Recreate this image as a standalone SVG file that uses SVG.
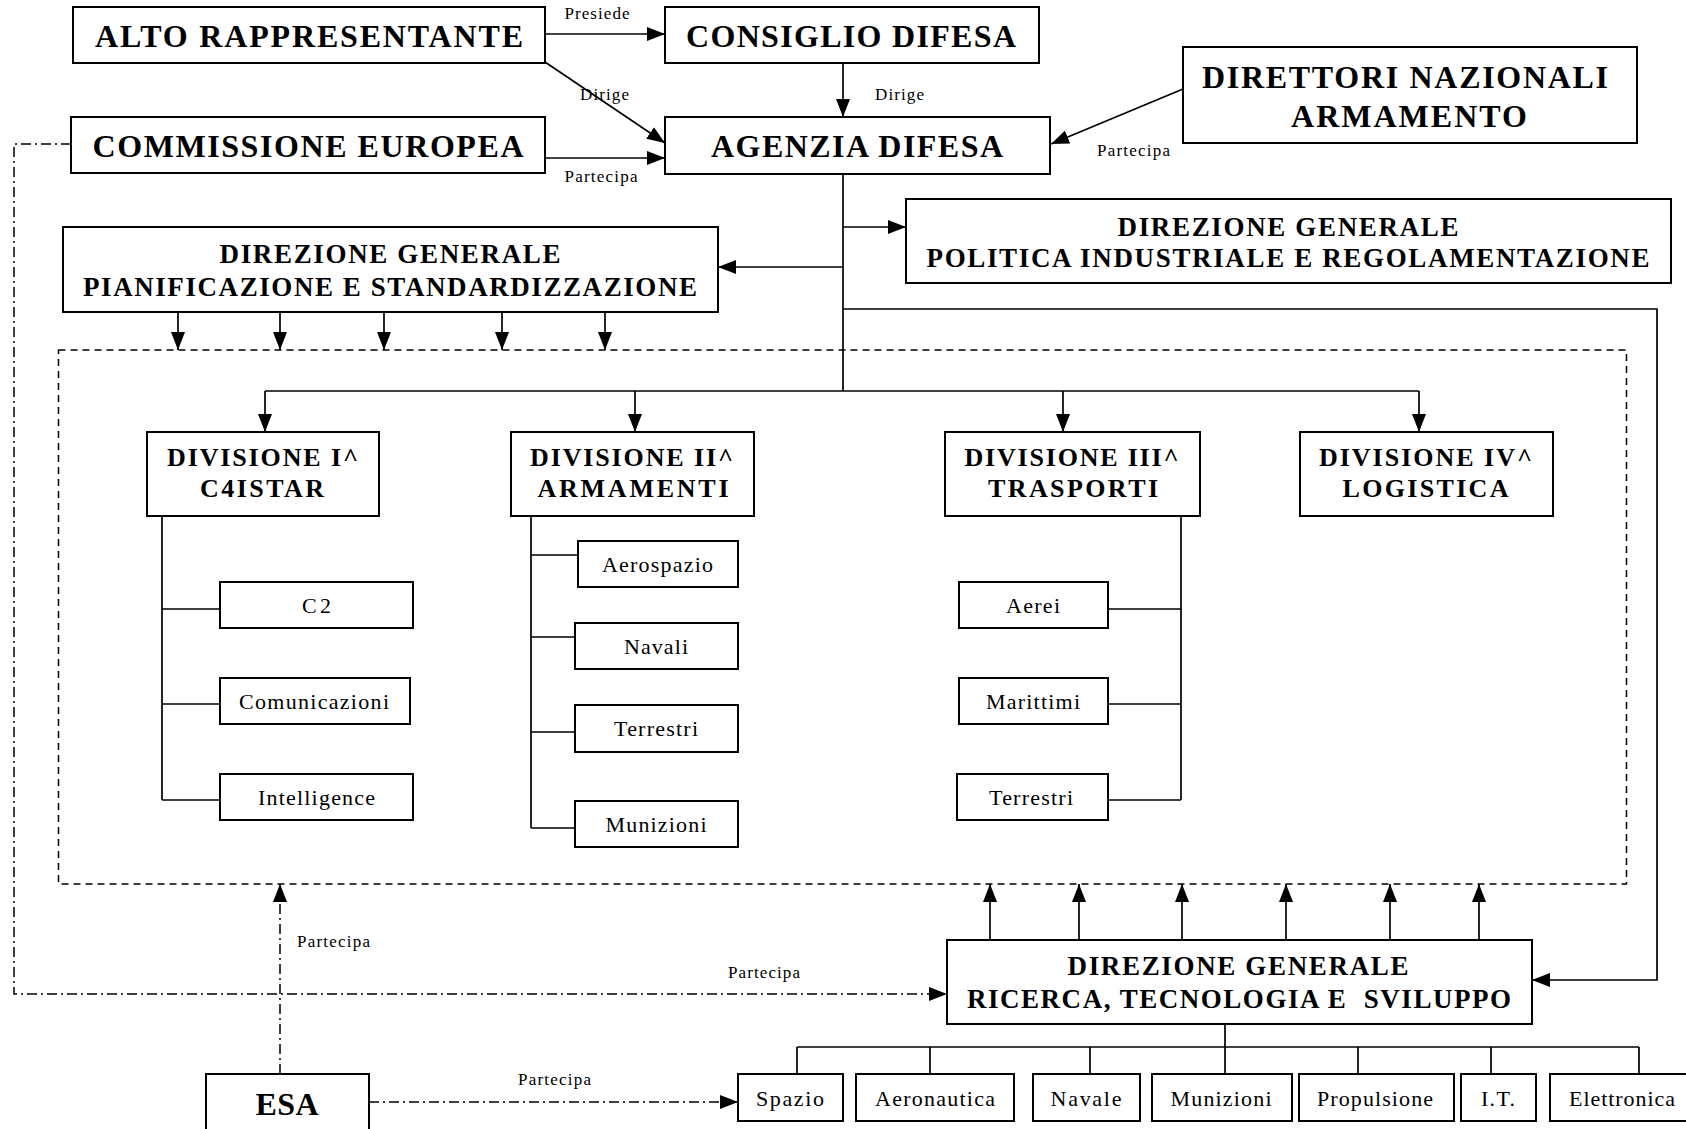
<svg xmlns="http://www.w3.org/2000/svg" width="1686" height="1129" viewBox="0 0 1686 1129">
<style>
.box{fill:#fff;stroke:#000;stroke-width:2}
.ln{fill:none;stroke:#000;stroke-width:1.7}
.dash{fill:none;stroke:#000;stroke-width:1.5;stroke-dasharray:7 5}
.dd{fill:none;stroke:#000;stroke-width:1.5;stroke-dasharray:10 4 2 4}
text{font-family:"Liberation Serif","Times New Roman",serif;fill:#000}
.big{font-size:32px;font-weight:bold;text-anchor:middle}
.dg{font-size:27px;font-weight:bold;text-anchor:middle}
.dgr{font-size:27px;font-weight:bold;text-anchor:middle}
.dv{font-size:26px;font-weight:bold;text-anchor:middle}
.sm{font-size:22px;text-anchor:middle}
.lb{font-size:17px}
</style>
<defs>
<marker id="ah" markerUnits="userSpaceOnUse" markerWidth="18" markerHeight="14" refX="18" refY="7" orient="auto" viewBox="0 0 18 14">
<path d="M0,0 L18,7 L0,14 z" fill="#000"/>
</marker>
</defs>

<g id="connectors">
<path class="ln" d="M545,34 L665,34" marker-end="url(#ah)"/>
<path class="ln" d="M545,62 L665,143" marker-end="url(#ah)"/>
<path class="ln" d="M843,63 L843,117" marker-end="url(#ah)"/>
<path class="ln" d="M545,158 L665,158" marker-end="url(#ah)"/>
<path class="ln" d="M1183,89 L1051,144" marker-end="url(#ah)"/>
<path class="ln" d="M843,174 L843,391"/>
<path class="ln" d="M843,227 L906,227" marker-end="url(#ah)"/>
<path class="ln" d="M843,267 L718,267" marker-end="url(#ah)"/>
<path class="ln" d="M843,309 L1657,309 L1657,980 L1532,980" marker-end="url(#ah)"/>
<path class="ln" d="M178,312 L178,350" marker-end="url(#ah)"/>
<path class="ln" d="M280,312 L280,350" marker-end="url(#ah)"/>
<path class="ln" d="M384,312 L384,350" marker-end="url(#ah)"/>
<path class="ln" d="M502,312 L502,350" marker-end="url(#ah)"/>
<path class="ln" d="M605,312 L605,350" marker-end="url(#ah)"/>
<path class="ln" d="M265,391 L1419,391"/>
<path class="ln" d="M265,391 L265,432" marker-end="url(#ah)"/>
<path class="ln" d="M635,391 L635,432" marker-end="url(#ah)"/>
<path class="ln" d="M1063,391 L1063,432" marker-end="url(#ah)"/>
<path class="ln" d="M1419,391 L1419,432" marker-end="url(#ah)"/>
<path class="ln" d="M162,516 L162,800 M162,609 L220,609 M162,704 L220,704 M162,800 L220,800"/>
<path class="ln" d="M531,516 L531,828 M531,555 L578,555 M531,637 L575,637 M531,732 L575,732 M531,828 L575,828"/>
<path class="ln" d="M1181,516 L1181,800 M1108,609 L1181,609 M1108,704 L1181,704 M1108,800 L1181,800"/>
<path class="ln" d="M990,940 L990,884" marker-end="url(#ah)"/>
<path class="ln" d="M1079,940 L1079,884" marker-end="url(#ah)"/>
<path class="ln" d="M1182,940 L1182,884" marker-end="url(#ah)"/>
<path class="ln" d="M1286,940 L1286,884" marker-end="url(#ah)"/>
<path class="ln" d="M1390,940 L1390,884" marker-end="url(#ah)"/>
<path class="ln" d="M1479,940 L1479,884" marker-end="url(#ah)"/>
<path class="ln" d="M1225,1024 L1225,1074 M797,1047 L1639,1047 M797,1047 L797,1074 M930,1047 L930,1074 M1090,1047 L1090,1074 M1358,1047 L1358,1074 M1491,1047 L1491,1074 M1639,1047 L1639,1074"/>
<path class="dd" d="M71,144 L14,144 L14,994 L947,994" marker-end="url(#ah)"/>
<path class="dd" d="M280,1074 L280,884" marker-end="url(#ah)"/>
<path class="dd" d="M369,1102 L738,1102" marker-end="url(#ah)"/>
<text class="lb" x="564.5" y="18.5" textLength="65" lengthAdjust="spacing">Presiede</text>
<text class="lb" x="580" y="100" textLength="49" lengthAdjust="spacing">Dirige</text>
<text class="lb" x="875" y="100" textLength="49" lengthAdjust="spacing">Dirige</text>
<text class="lb" x="564.5" y="182" textLength="73" lengthAdjust="spacing">Partecipa</text>
<text class="lb" x="1097" y="155.5" textLength="73" lengthAdjust="spacing">Partecipa</text>
<text class="lb" x="297" y="947" textLength="73" lengthAdjust="spacing">Partecipa</text>
<text class="lb" x="728" y="978" textLength="72" lengthAdjust="spacing">Partecipa</text>
<text class="lb" x="518" y="1085" textLength="73" lengthAdjust="spacing">Partecipa</text>
</g>

<g id="area">
<rect class="dash" x="58.5" y="350" width="1568" height="534"/>
</g>

<g id="alto"><rect class="box" x="73" y="7" width="472" height="56"/>
<text class="big" x="309" y="47" textLength="428" lengthAdjust="spacing">ALTO RAPPRESENTANTE</text></g>
<g id="consiglio"><rect class="box" x="665" y="7" width="374" height="56"/>
<text class="big" x="851" y="47" textLength="330" lengthAdjust="spacing">CONSIGLIO DIFESA</text></g>
<g id="commissione"><rect class="box" x="71" y="117" width="474" height="56"/>
<text class="big" x="308" y="157" textLength="431" lengthAdjust="spacing">COMMISSIONE EUROPEA</text></g>
<g id="agenzia"><rect class="box" x="665" y="117" width="385" height="57"/>
<text class="big" x="857" y="157" textLength="292" lengthAdjust="spacing">AGENZIA DIFESA</text></g>
<g id="direttori"><rect class="box" x="1183" y="47" width="454" height="96"/>
<text class="big" x="1405" y="88" textLength="406" lengthAdjust="spacing">DIRETTORI NAZIONALI</text>
<text class="big" x="1409" y="127" textLength="236" lengthAdjust="spacing">ARMAMENTO</text></g>
<g id="politica"><rect class="box" x="906" y="199" width="765" height="84"/>
<text class="dg" x="1288" y="235.5" textLength="341" lengthAdjust="spacing">DIREZIONE GENERALE</text>
<text class="dg" x="1288" y="267" textLength="723" lengthAdjust="spacing">POLITICA INDUSTRIALE E REGOLAMENTAZIONE</text></g>
<g id="pianificazione"><rect class="box" x="63" y="227" width="655" height="85"/>
<text class="dg" x="390" y="263" textLength="341" lengthAdjust="spacing">DIREZIONE GENERALE</text>
<text class="dg" x="390" y="296" textLength="614" lengthAdjust="spacing">PIANIFICAZIONE E STANDARDIZZAZIONE</text></g>

<g id="div1"><rect class="box" x="147" y="432" width="232" height="84"/>
<text class="dv" x="262.5" y="466" textLength="191" lengthAdjust="spacing">DIVISIONE I^</text>
<text class="dv" x="262" y="497" textLength="124" lengthAdjust="spacing">C4ISTAR</text></g>
<g id="div2"><rect class="box" x="511" y="432" width="243" height="84"/>
<text class="dv" x="631.5" y="466" textLength="203" lengthAdjust="spacing">DIVISIONE II^</text>
<text class="dv" x="633" y="497" textLength="191" lengthAdjust="spacing">ARMAMENTI</text></g>
<g id="div3"><rect class="box" x="945" y="432" width="255" height="84"/>
<text class="dv" x="1071.5" y="466" textLength="214" lengthAdjust="spacing">DIVISIONE III^</text>
<text class="dv" x="1073" y="497" textLength="170" lengthAdjust="spacing">TRASPORTI</text></g>
<g id="div4"><rect class="box" x="1300" y="432" width="253" height="84"/>
<text class="dv" x="1425.5" y="466" textLength="213" lengthAdjust="spacing">DIVISIONE IV^</text>
<text class="dv" x="1425.5" y="497" textLength="166" lengthAdjust="spacing">LOGISTICA</text></g>

<g id="c2"><rect class="box" x="220" y="582" width="193" height="46"/>
<text class="sm" x="316.5" y="613" textLength="29" lengthAdjust="spacing">C2</text></g>
<g id="comunicazioni"><rect class="box" x="220" y="678" width="190" height="46"/>
<text class="sm" x="314" y="709" textLength="150" lengthAdjust="spacing">Comunicazioni</text></g>
<g id="intelligence"><rect class="box" x="220" y="774" width="193" height="46"/>
<text class="sm" x="316.5" y="805" textLength="117" lengthAdjust="spacing">Intelligence</text></g>

<g id="aerospazio"><rect class="box" x="578" y="541" width="160" height="46"/>
<text class="sm" x="657.5" y="572" textLength="111" lengthAdjust="spacing">Aerospazio</text></g>
<g id="navali"><rect class="box" x="575" y="623" width="163" height="46"/>
<text class="sm" x="656" y="654" textLength="64" lengthAdjust="spacing">Navali</text></g>
<g id="terrestri2"><rect class="box" x="575" y="705" width="163" height="47"/>
<text class="sm" x="656" y="736" textLength="84" lengthAdjust="spacing">Terrestri</text></g>
<g id="munizioni2"><rect class="box" x="575" y="801" width="163" height="46"/>
<text class="sm" x="656" y="832" textLength="101" lengthAdjust="spacing">Munizioni</text></g>

<g id="aerei"><rect class="box" x="959" y="582" width="149" height="46"/>
<text class="sm" x="1033" y="613" textLength="54" lengthAdjust="spacing">Aerei</text></g>
<g id="marittimi"><rect class="box" x="959" y="678" width="149" height="46"/>
<text class="sm" x="1033" y="709" textLength="94" lengthAdjust="spacing">Marittimi</text></g>
<g id="terrestri3"><rect class="box" x="957" y="774" width="151" height="46"/>
<text class="sm" x="1031" y="805" textLength="84" lengthAdjust="spacing">Terrestri</text></g>

<g id="ricerca"><rect class="box" x="947" y="940" width="585" height="84"/>
<text class="dgr" x="1238" y="975" textLength="341" lengthAdjust="spacing">DIREZIONE GENERALE</text>
<text class="dgr" x="1239" y="1008" textLength="544" lengthAdjust="spacing" xml:space="preserve">RICERCA, TECNOLOGIA E  SVILUPPO</text></g>

<g id="esa"><rect class="box" x="206" y="1074" width="163" height="70"/>
<text class="big" x="287" y="1115" textLength="63" lengthAdjust="spacing">ESA</text></g>

<g id="spazio"><rect class="box" x="738" y="1074" width="105" height="47"/>
<text class="sm" x="790" y="1106" textLength="68" lengthAdjust="spacing">Spazio</text></g>
<g id="aeronautica"><rect class="box" x="856" y="1074" width="158" height="47"/>
<text class="sm" x="935" y="1106" textLength="120" lengthAdjust="spacing">Aeronautica</text></g>
<g id="navale"><rect class="box" x="1033" y="1074" width="107" height="47"/>
<text class="sm" x="1086" y="1106" textLength="71" lengthAdjust="spacing">Navale</text></g>
<g id="munizioni"><rect class="box" x="1152" y="1074" width="140" height="47"/>
<text class="sm" x="1221" y="1106" textLength="101" lengthAdjust="spacing">Munizioni</text></g>
<g id="propulsione"><rect class="box" x="1299" y="1074" width="155" height="47"/>
<text class="sm" x="1375" y="1106" textLength="116" lengthAdjust="spacing">Propulsione</text></g>
<g id="it"><rect class="box" x="1461" y="1074" width="75" height="47"/>
<text class="sm" x="1498" y="1106" textLength="34" lengthAdjust="spacing">I.T.</text></g>
<g id="elettronica"><rect class="box" x="1550" y="1074" width="145" height="47"/>
<text class="sm" x="1622" y="1106" textLength="106" lengthAdjust="spacing">Elettronica</text></g>
</svg>
